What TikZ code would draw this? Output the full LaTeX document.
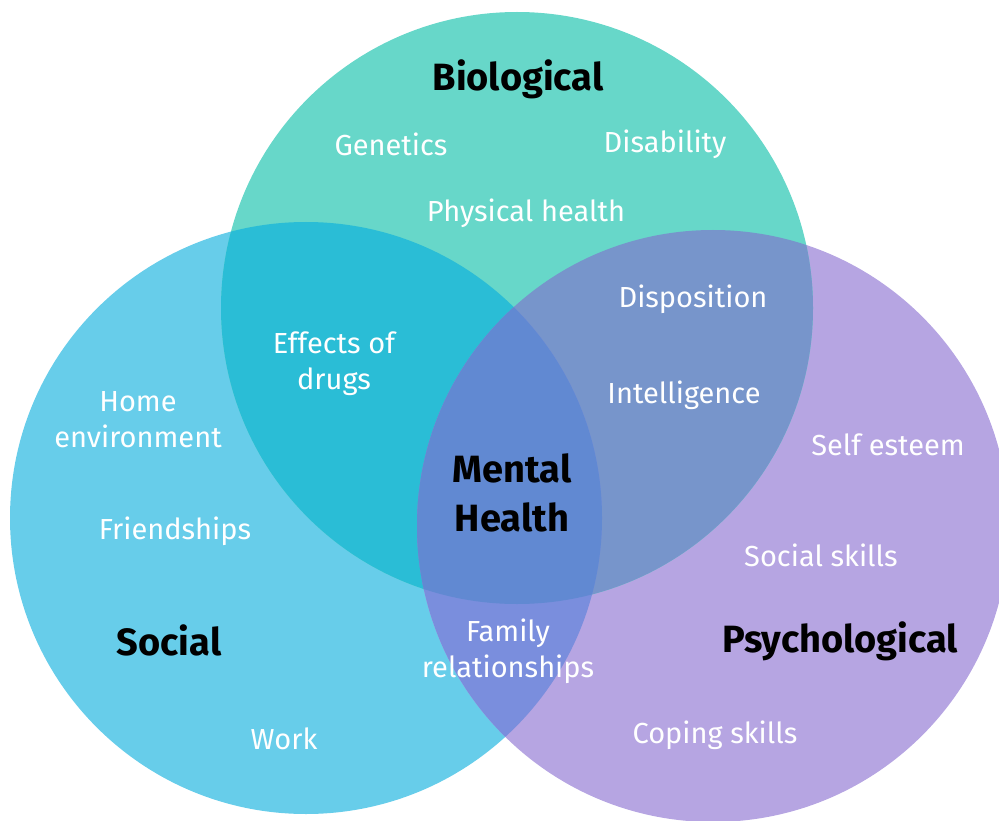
\documentclass[tikz,border=0pt]{standalone}
\usepackage{fontspec}
\setmainfont{Fira Sans}
\definecolor{bioc}{HTML}{67D7C9}
\definecolor{socc}{HTML}{67CDEA}
\definecolor{psyc}{HTML}{B6A5E2}
\definecolor{bsc}{HTML}{2ABDD6}
\definecolor{bpc}{HTML}{7795CB}
\definecolor{spc}{HTML}{7A8EDD}
\definecolor{cenc}{HTML}{6189D2}
\begin{document}
\begin{tikzpicture}[x=1pt,y=-1pt,
  item/.style={text=white,align=center,font=\fontsize{29}{36}\selectfont,inner sep=0pt},
  head/.style={text=black,align=center,font=\fontsize{38}{49}\selectfont\bfseries,inner sep=0pt}]
\useasboundingbox (0,0) rectangle (999,821);
\coordinate (B) at (517,308);
\coordinate (S) at (306,518);
\coordinate (P) at (713,526);
\def\R{296}
\fill[socc] (S) circle (\R);
\fill[psyc] (P) circle (\R);
\fill[bioc] (B) circle (\R);
\begin{scope}
  \clip (B) circle (\R);
  \fill[bsc] (S) circle (\R);
  \fill[bpc] (P) circle (\R);
\end{scope}
\begin{scope}
  \clip (S) circle (\R);
  \fill[spc] (P) circle (\R);
\end{scope}
\begin{scope}
  \clip (B) circle (\R);
  \clip (S) circle (\R);
  \fill[cenc] (P) circle (\R);
\end{scope}
\node[head] (bio) at (518,79) {Biological};
\node[head] (soc) at (169,640) {Social};
\node[head] (psy) at (840,641) {Psychological};
\node[head] (mh) at (512,493) {Mental\\Health};
\node[item] (gen) at (391,144) {Genetics};
\node[item] (dis) at (665,144) {Disability};
\node[item] (phy) at (526,213) {Physical health};
\node[item] (dsp) at (693,299) {Disposition};
\node[item] (eff) at (334,364) {Effects of\\drugs};
\node[item] (int) at (684,395) {Intelligence};
\node[item] (home) at (138,420) {Home\\environment};
\node[item] (self) at (888,445) {Self esteem};
\node[item] (fri) at (175,531) {Friendships};
\node[item] (ssk) at (821,555) {Social skills};
\node[item] (fam) at (508,651) {Family\\relationships};
\node[item] (work) at (284,739) {Work};
\node[item] (cop) at (715,735) {Coping skills};
\end{tikzpicture}
\end{document}
